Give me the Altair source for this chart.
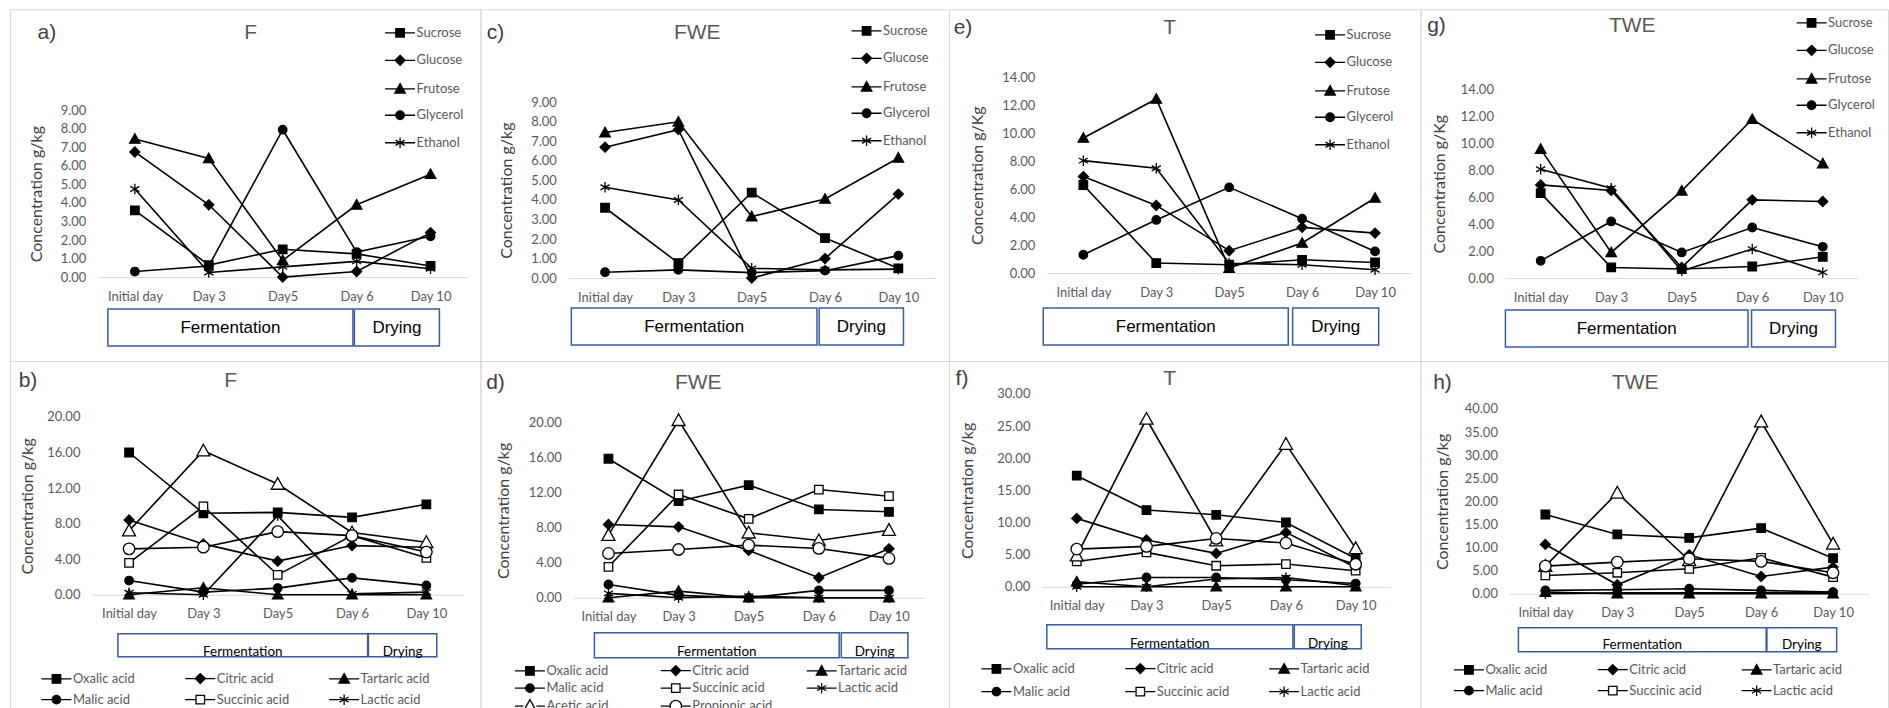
import altair as alt
import pandas as pd

# ---------------- data ----------------
DAYS = ["Initial day", "Day 3", "Day5", "Day 6", "Day 10"]
PHASES = ["Fermentation", "Drying"]
SUGARS = ["Sucrose", "Glucose", "Frutose", "Glycerol", "Ethanol"]
ACIDS = ["Oxalic acid", "Citric acid", "Tartaric acid", "Malic acid",
         "Succinic acid", "Lactic acid", "Acetic acid", "Propionic acid"]

# a) F sugars
F_SUCROSE = [3.60, 0.65, 1.50, 1.25, 0.60]
F_GLUCOSE = [6.75, 3.90, 0.00, 0.30, 2.40]
F_FRUTOSE = [7.45, 6.40, 0.90, 3.90, 5.55]
F_GLYCEROL = [0.30, 0.60, 7.95, 1.35, 2.20]
F_ETHANOL = [4.75, 0.25, 0.55, 0.85, 0.45]
# c) FWE sugars
FWE_SUCROSE = [3.60, 0.77, 4.38, 2.05, 0.50]
FWE_GLUCOSE = [6.70, 7.60, 0.00, 1.00, 4.30]
FWE_FRUTOSE = [7.45, 8.00, 3.15, 4.05, 6.15]
FWE_GLYCEROL = [0.30, 0.42, 0.28, 0.38, 1.15]
FWE_ETHANOL = [4.65, 4.00, 0.50, 0.42, 0.46]
# e) T sugars
T_SUCROSE = [6.30, 0.72, 0.60, 0.95, 0.76]
T_GLUCOSE = [6.90, 4.84, 1.60, 3.27, 2.86]
T_FRUTOSE = [9.66, 12.45, 0.36, 2.15, 5.37]
T_GLYCEROL = [1.31, 3.80, 6.13, 3.89, 1.55]
T_ETHANOL = [8.04, 7.50, 0.70, 0.60, 0.24]
# g) TWE sugars
TWE_SUCROSE = [6.30, 0.79, 0.67, 0.86, 1.58]
TWE_GLUCOSE = [6.91, 6.50, 0.79, 5.80, 5.68]
TWE_FRUTOSE = [9.56, 1.90, 6.47, 11.78, 8.49]
TWE_GLYCEROL = [1.28, 4.20, 1.90, 3.75, 2.32]
TWE_ETHANOL = [8.07, 6.67, 0.54, 2.15, 0.42]

# b) F acids
F_OXALIC = [16.00, 9.16, 9.27, 8.70, 10.17]
F_CITRIC = [8.41, 5.72, 3.78, 5.53, 5.35]
F_TARTARIC = [0.00, 0.78, 0.00, 0.00, 0.00]
F_MALIC = [1.60, 0.30, 0.75, 1.90, 1.05]
F_SUCCINIC = [3.59, 9.94, 2.24, 6.65, 4.15]
F_LACTIC = [0.22, 0.00, 8.90, 0.10, 0.30]
F_ACETIC = [7.20, 16.20, 12.45, 7.00, 5.90]
F_PROPIONIC = [5.16, 5.35, 7.10, 6.65, 4.80]
# d) FWE acids
FWE_OXALIC = [15.90, 11.05, 12.88, 10.10, 9.83]
FWE_CITRIC = [8.38, 8.11, 5.41, 2.29, 5.60]
FWE_TARTARIC = [0.00, 0.76, 0.00, 0.00, 0.00]
FWE_MALIC = [1.52, 0.27, 0.00, 0.84, 0.84]
FWE_SUCCINIC = [3.54, 11.81, 9.03, 12.38, 11.62]
FWE_LACTIC = [0.50, 0.00, 0.19, 0.00, 0.00]
FWE_ACETIC = [7.16, 20.30, 7.43, 6.55, 7.73]
FWE_PROPIONIC = [5.07, 5.52, 6.02, 5.64, 4.50]
# f) T acids
T_OXALIC = [17.28, 11.94, 11.20, 10.00, 4.40]
T_CITRIC = [10.64, 7.27, 5.19, 8.46, 3.00]
T_TARTARIC = [0.78, 0.00, 0.00, 0.00, 0.00]
T_MALIC = [0.40, 1.45, 1.45, 1.10, 0.50]
T_SUCCINIC = [3.94, 5.35, 3.27, 3.53, 2.50]
T_LACTIC = [0.00, 0.00, 1.20, 1.45, 0.15]
T_ACETIC = [4.83, 26.10, 7.16, 22.20, 5.97]
T_PROPIONIC = [5.86, 6.28, 7.52, 6.80, 3.50]
# h) TWE acids
TWE_OXALIC = [17.15, 12.83, 12.10, 14.20, 7.70]
TWE_CITRIC = [10.67, 1.95, 8.43, 3.75, 5.77]
TWE_TARTARIC = [0.36, 0.00, 0.00, 0.00, 0.00]
TWE_MALIC = [0.72, 0.86, 1.08, 0.72, 0.36]
TWE_SUCCINIC = [3.96, 4.54, 5.40, 7.78, 3.60]
TWE_LACTIC = [0.00, 0.20, 0.20, 0.20, 0.20]
TWE_ACETIC = [5.98, 21.84, 7.20, 37.26, 10.80]
TWE_PROPIONIC = [5.98, 6.85, 7.57, 7.00, 4.54]

SUGAR_DATA = {
    "F": [F_SUCROSE, F_GLUCOSE, F_FRUTOSE, F_GLYCEROL, F_ETHANOL],
    "FWE": [FWE_SUCROSE, FWE_GLUCOSE, FWE_FRUTOSE, FWE_GLYCEROL, FWE_ETHANOL],
    "T": [T_SUCROSE, T_GLUCOSE, T_FRUTOSE, T_GLYCEROL, T_ETHANOL],
    "TWE": [TWE_SUCROSE, TWE_GLUCOSE, TWE_FRUTOSE, TWE_GLYCEROL, TWE_ETHANOL],
}
ACID_DATA = {
    "F": [F_OXALIC, F_CITRIC, F_TARTARIC, F_MALIC, F_SUCCINIC, F_LACTIC, F_ACETIC, F_PROPIONIC],
    "FWE": [FWE_OXALIC, FWE_CITRIC, FWE_TARTARIC, FWE_MALIC, FWE_SUCCINIC, FWE_LACTIC, FWE_ACETIC, FWE_PROPIONIC],
    "T": [T_OXALIC, T_CITRIC, T_TARTARIC, T_MALIC, T_SUCCINIC, T_LACTIC, T_ACETIC, T_PROPIONIC],
    "TWE": [TWE_OXALIC, TWE_CITRIC, TWE_TARTARIC, TWE_MALIC, TWE_SUCCINIC, TWE_LACTIC, TWE_ACETIC, TWE_PROPIONIC],
}

# ---------------- styles ----------------
FONT = "Lato"
HEAD_FONT = "Liberation Sans"
GREY = "#595959"
DARK = "#404040"
BLUE = "#3A5BA0"
BORDER = "#d9d9d9"


def sq(h):
    return f"M{-h},{-h}H{h}V{h}H{-h}Z"


def dia(h):
    return f"M0,{-h}L{h},0L0,{h}L{-h},0Z"


def tri(h):
    return f"M0,{-h}L{h},{0.8*h:.3f}H{-h}Z"


def circ(r):
    return f"M{r},0A{r},{r},0,1,1,{-r},0A{r},{r},0,1,1,{r},0Z"


def star(r):
    a, b = 0.87 * r, 0.5 * r
    return f"M0,{-r}V{r}M{-a:.3f},{-b:.3f}L{a:.3f},{b:.3f}M{-a:.3f},{b:.3f}L{a:.3f},{-b:.3f}"


# (marker path, fill colour, open?, half-size) per series
SUGAR_MARKS = [(sq(0.85), "black", False, 0.85), (dia(1.0), "black", False, 1.0),
               (tri(1.05), "black", False, 1.05), (circ(0.85), "black", False, 0.85),
               (star(1.05), "black", False, 1.05)]
ACID_MARKS = [(sq(0.85), "black", False, 0.85), (dia(1.0), "black", False, 1.0),
              (tri(1.05), "black", False, 1.05), (circ(0.85), "black", False, 0.85),
              (sq(0.85), "white", True, 0.85), (star(1.05), "black", False, 1.05),
              (tri(1.3), "white", True, 1.3), (circ(1.15), "white", True, 1.15)]


def legend_path(path, open_, half):
    if open_:
        return f"M-3,0H{-half}M{half},0H3" + path
    return "M-3,0H3" + path


# ---------------- layout (panel-local pixels) ----------------
# leg = (stub start x, first-row centre y, row spacing, column padding)
LAYOUT = {
    "a": dict(W=471, H=352, plot=(88, 458, 101, 268), box=(300, 337), ph=((0.135, 3.45), (3.47, 4.62)),
              letter=(37, 24), title=(241, 24), ytitle=27, leg=(374, 23, 28, 0), txt_y=318.5),
    "c": dict(W=469, H=352, plot=(88, 455, 93, 269), box=(299, 336), ph=((0.04, 3.39), (3.42, 4.57)),
              letter=(15, 24), title=(217, 24), ytitle=26, leg=(370, 21, 28, 0), txt_y=317.5),
    "e": dict(W=472, H=352, plot=(98, 463, 68, 264), box=(299, 336), ph=((-0.05, 3.31), (3.37, 4.55)),
              letter=(14, 19), title=(221, 19), ytitle=29, leg=(365, 25, 28, 0), txt_y=317.5),
    "g": dict(W=468, H=352, plot=(85, 438, 80, 269), box=(301, 338), ph=((0.0, 3.44), (3.49, 4.68)),
              letter=(16, 17), title=(212, 17), ytitle=19, leg=(375, 13, 28, 0), txt_y=319.5),
    "b": dict(W=471, H=348, plot=(82, 454, 56, 234), box=(273, 296), ph=((0.35, 3.71), (3.72, 4.64)),
              letter=(18, 20), title=(221, 20), ytitle=18, leg=(30, 316, 22, 36), txt_y=291),
    "d": dict(W=469, H=348, plot=(93, 444, 62, 237), box=(272, 297), ph=((0.3, 3.79), (3.82, 4.77)),
              letter=(15, 22), title=(218, 22), ytitle=23, leg=(33, 308, 17, 30), txt_y=291),
    "f": dict(W=472, H=348, plot=(93, 442, 33, 226), box=(264, 288), ph=((0.07, 3.6), (3.62, 4.58)),
              letter=(13, 18), title=(221, 18), ytitle=19, leg=(31, 306, 24, 36), txt_y=283),
    "h": dict(W=468, H=348, plot=(89, 449, 48, 233), box=(267, 291), ph=((0.125, 3.57), (3.58, 4.55)),
              letter=(22, 22), title=(215, 22), ytitle=22, leg=(32, 307, 22, 36), txt_y=284),
}


def panel(key, title, series, values, marks, ymax, ystep, ytitle, top_row, legend_values):
    L = LAYOUT[key]
    W, H = L["W"], L["H"]
    x0, x1, yt, yb = L["plot"]
    rows = []
    for s, vals in zip(series, values):
        for i, (d, v) in enumerate(zip(DAYS, vals)):
            rows.append({"series": s, "day": d, "idx": i, "value": v})
    df = pd.DataFrame(rows)

    xs = alt.Scale(type="point", domain=DAYS, range=[x0, x1], padding=0.5)
    ys = alt.Scale(domain=[0, ymax], range=[yb, yt], nice=False, zero=True)
    x_axis = alt.Axis(title=None, orient="bottom", offset=-(H - yb), domainColor=BORDER, domainWidth=1,
                      ticks=False, grid=False, labelFont=FONT, labelFontSize=13, labelColor=GREY,
                      labelPadding=13, labelAngle=0)
    tick_vals = [ystep * k for k in range(int(round(ymax / ystep)) + 1)]
    y_axis = alt.Axis(title=ytitle, orient="left", offset=-x0, domain=False, ticks=False, grid=False,
                      values=tick_vals, format=".2f", labelFont=FONT, labelFontSize=13, labelColor=GREY,
                      labelPadding=12, labelOverlap=False, titleFont=FONT, titleFontSize=16,
                      titleFontWeight="normal", titleColor=DARK, titleX=L["ytitle"] - x0,
                      titleBaseline="middle")

    shape_range = [m[0] for m in marks]
    fill_range = [m[1] for m in marks]
    leg_paths = [legend_path(m[0], m[2], m[3]) for m in marks]

    lx, ly, lgap, lcol = L["leg"]
    if top_row:
        leg_y = ly - 6
        row_pad = lgap - 16.5
    else:
        leg_y = ly - 5
        row_pad = max(lgap - 17.5, 0)
    leg_kwargs = dict(title=None, orient="none", legendX=lx + 10, legendY=leg_y, symbolSize=100,
                      labelFont=FONT, labelFontSize=13, labelColor=GREY, labelOffset=10,
                      rowPadding=row_pad, padding=0, values=legend_values,
                      symbolStrokeColor="black", symbolStrokeWidth=1.3, symbolOpacity=1)
    if top_row:
        leg_kwargs.update(direction="vertical", columns=1)
    else:
        leg_kwargs.update(direction="horizontal", columns=3, gridAlign="all", columnPadding=lcol)

    enc = dict(x=alt.X("day:O", scale=xs, axis=x_axis), y=alt.Y("value:Q", scale=ys, axis=y_axis))
    lines = alt.Chart(df).mark_line(color="black", strokeWidth=1.6).encode(
        detail="series:N", order=alt.Order("idx:Q"), **enc)
    points = alt.Chart(df).mark_point(filled=True, size=100, stroke="black", strokeWidth=1.3, opacity=1).encode(
        shape=alt.Shape("series:N", scale=alt.Scale(domain=series, range=shape_range), legend=None),
        fill=alt.Fill("series:N", scale=alt.Scale(domain=series, range=fill_range), legend=None),
        **enc)
    # legend-only layer (no visible marks): symbols are line stub + marker
    legend_layer = alt.Chart(df).transform_filter("false").mark_point(
        filled=False, size=100, strokeWidth=1.3, opacity=1).encode(
        shape=alt.Shape("series:N", scale=alt.Scale(domain=series, range=leg_paths),
                        legend=alt.Legend(**leg_kwargs)),
        fill=alt.Fill("series:N", scale=alt.Scale(domain=series, range=fill_range),
                      legend=alt.Legend(**leg_kwargs)),
        stroke=alt.Stroke("series:N", scale=alt.Scale(domain=series, range=["black"] * len(series)),
                          legend=alt.Legend(**leg_kwargs)),
        **enc)
    data_layer = alt.layer(lines, points, legend_layer).resolve_scale(
        shape="independent", fill="independent", stroke="independent")

    (s1, e1), (s2, e2) = L["ph"]
    pdf = pd.DataFrame({"phase": PHASES, "start": [s1, s2], "end": [e1, e2]})
    pdf["mid"] = (pdf["start"] + pdf["end"]) / 2
    bx = alt.Scale(domain=[0, 5], range=[x0, x1], nice=False, zero=False)
    bt, bb = L["box"]
    rects = alt.Chart(pdf).mark_rect(fill="white", fillOpacity=0, stroke=BLUE, strokeWidth=1.5).encode(
        x=alt.X("start:Q", scale=bx, axis=None), x2="end:Q", y=alt.value(bt), y2=alt.value(bb))
    if top_row:
        ptxt = alt.Chart(pdf).mark_text(font=HEAD_FONT, fontSize=17, color="black", baseline="middle")
    else:
        ptxt = alt.Chart(pdf).mark_text(font=FONT, fontSize=13.5, color="black", baseline="middle")
    ptxt = ptxt.encode(x=alt.X("mid:Q", scale=bx, axis=None), y=alt.value(L["txt_y"]), text="phase:N")

    letter = alt.Chart(pd.DataFrame({"t": [key + ")"]})).mark_text(
        font=HEAD_FONT, fontSize=21, color=DARK, baseline="middle", align="center").encode(
        text="t:N", x=alt.value(L["letter"][0]), y=alt.value(L["letter"][1]))
    ttl = alt.Chart(pd.DataFrame({"t": [title]})).mark_text(
        font=HEAD_FONT, fontSize=21, color=GREY, baseline="middle", align="center").encode(
        text="t:N", x=alt.value(L["title"][0]), y=alt.value(L["title"][1]))

    return alt.layer(rects, ptxt, data_layer, letter, ttl).resolve_scale(x="independent").properties(
        width=W, height=H)


G_KG = "Concentration g/kg"
G_KG_CAP = "Concentration g/Kg"

pa = panel("a", "F", SUGARS, SUGAR_DATA["F"], SUGAR_MARKS, 9, 1, G_KG, True, SUGARS)
pc = panel("c", "FWE", SUGARS, SUGAR_DATA["FWE"], SUGAR_MARKS, 9, 1, G_KG, True, SUGARS)
pe = panel("e", "T", SUGARS, SUGAR_DATA["T"], SUGAR_MARKS, 14, 2, G_KG_CAP, True, SUGARS)
pg = panel("g", "TWE", SUGARS, SUGAR_DATA["TWE"], SUGAR_MARKS, 14, 2, G_KG_CAP, True, SUGARS)
pb = panel("b", "F", ACIDS, ACID_DATA["F"], ACID_MARKS, 20, 4, G_KG, False, ACIDS[:6])
pd_ = panel("d", "FWE", ACIDS, ACID_DATA["FWE"], ACID_MARKS, 20, 4, G_KG, False, ACIDS)
pf = panel("f", "T", ACIDS, ACID_DATA["T"], ACID_MARKS, 30, 5, G_KG, False, ACIDS[:6])
ph = panel("h", "TWE", ACIDS, ACID_DATA["TWE"], ACID_MARKS, 40, 5, G_KG, False, ACIDS[:6])

chart = alt.concat(pa, pc, pe, pg, pb, pd_, pf, ph, columns=4, spacing=0, bounds="flush",
                   align="each").properties(
    padding={"left": 9, "top": 8, "right": 0, "bottom": 0}
).configure_view(stroke=BORDER, strokeWidth=1).resolve_scale(
    shape="independent", fill="independent", stroke="independent")

chart.save("out.html", embed_options={"renderer": "svg", "actions": False})
